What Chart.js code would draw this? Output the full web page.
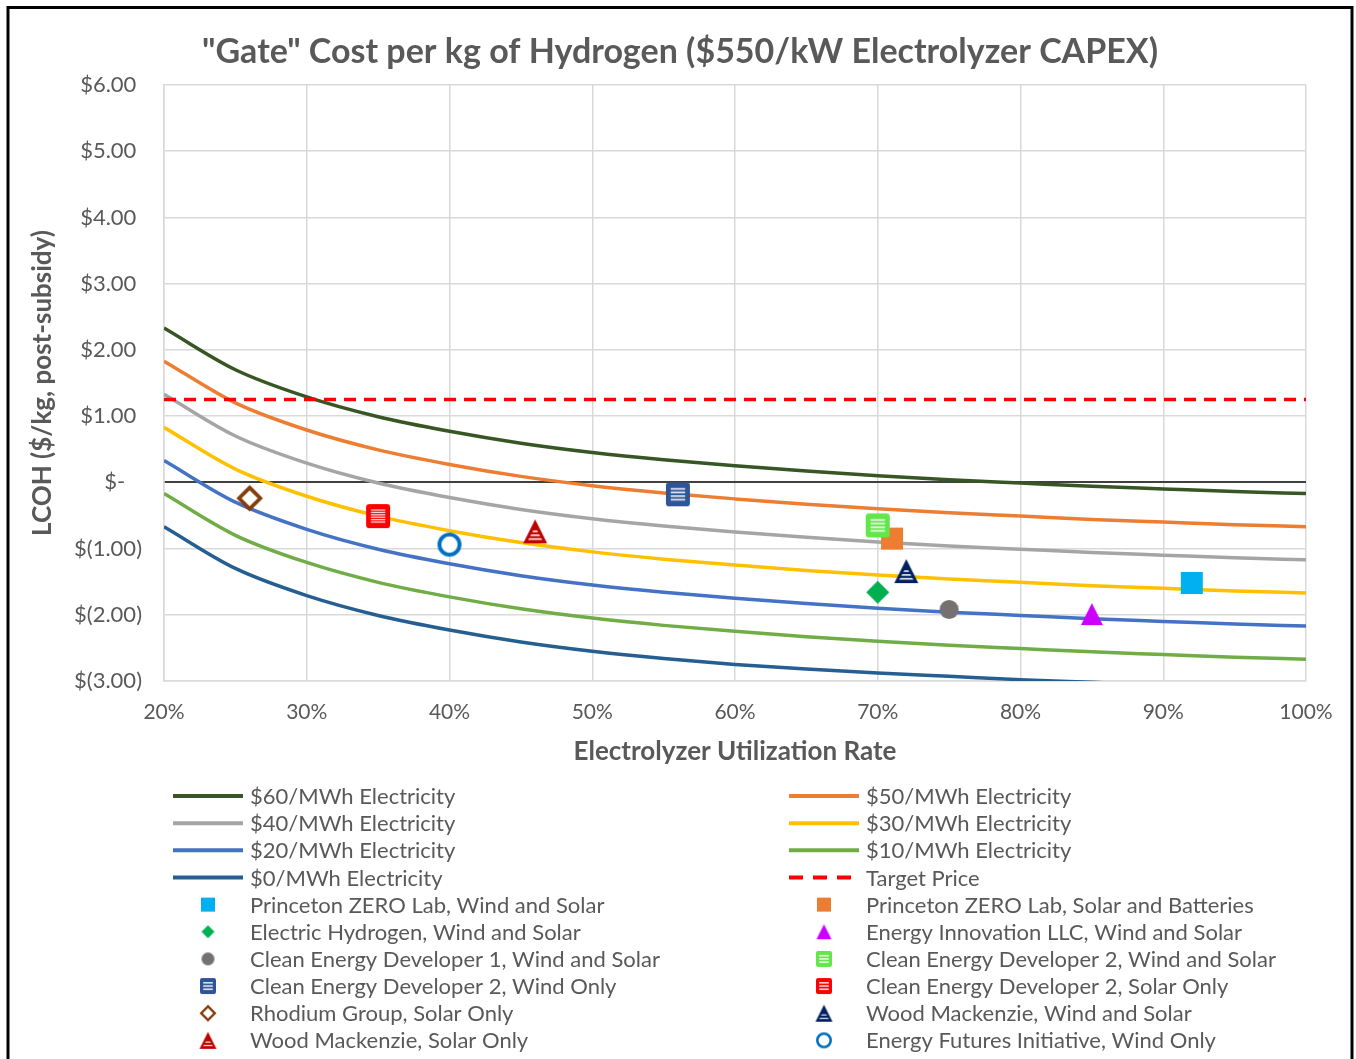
<!DOCTYPE html>
<html>
<head>
<meta charset="utf-8">
<script src="https://cdn.jsdelivr.net/npm/chart.js@4"></script>
<style>
  html, body { margin: 0; padding: 0; background: #fff; }
  #wrap { width: 1356px; height: 1059px; position: relative; }
</style>
</head>
<body>
<div id="wrap"><canvas id="lcohChart" width="1356" height="1059"></canvas></div>
<script>
/* "Gate" cost per kg of hydrogen vs electrolyzer utilization */

const UTILIZATION = [20, 25, 30, 35, 40, 45, 50, 55, 60, 65, 70, 75, 80, 85, 90, 95, 100];

const LCOH_60 = [2.33, 1.70, 1.29, 0.99, 0.77, 0.59, 0.45, 0.34, 0.25, 0.17, 0.10, 0.04, -0.01, -0.06, -0.10, -0.14, -0.17];
const LCOH_50 = [1.83, 1.20, 0.79, 0.49, 0.27, 0.09, -0.05, -0.16, -0.25, -0.33, -0.40, -0.46, -0.51, -0.56, -0.60, -0.64, -0.67];
const LCOH_40 = [1.33, 0.70, 0.29, -0.01, -0.23, -0.41, -0.55, -0.66, -0.75, -0.83, -0.90, -0.96, -1.01, -1.06, -1.10, -1.14, -1.17];
const LCOH_30 = [0.83, 0.20, -0.21, -0.51, -0.73, -0.91, -1.05, -1.16, -1.25, -1.33, -1.40, -1.46, -1.51, -1.56, -1.60, -1.64, -1.67];
const LCOH_20 = [0.33, -0.30, -0.71, -1.01, -1.23, -1.41, -1.55, -1.66, -1.75, -1.83, -1.90, -1.96, -2.01, -2.06, -2.10, -2.14, -2.17];
const LCOH_10 = [-0.17, -0.80, -1.21, -1.51, -1.73, -1.91, -2.05, -2.16, -2.25, -2.33, -2.40, -2.46, -2.51, -2.56, -2.60, -2.64, -2.67];
const LCOH_0 = [-0.67, -1.30, -1.71, -2.01, -2.23, -2.41, -2.55, -2.66, -2.75, -2.82, -2.88, -2.93, -2.98, -3.02, -3.06, -3.09, -3.12];

const CURVE_NAMES = [
  "$60/MWh Electricity", "$50/MWh Electricity", "$40/MWh Electricity", "$30/MWh Electricity",
  "$20/MWh Electricity", "$10/MWh Electricity", "$0/MWh Electricity"
];

const TARGET_UTIL = [20, 100];
const TARGET_PRICE = [1.25, 1.25];

const PROJECT_NAMES = [
  "Princeton ZERO Lab, Wind and Solar",
  "Princeton ZERO Lab, Solar and Batteries",
  "Electric Hydrogen, Wind and Solar",
  "Energy Innovation LLC, Wind and Solar",
  "Clean Energy Developer 1, Wind and Solar",
  "Clean Energy Developer 2, Wind and Solar",
  "Clean Energy Developer 2, Wind Only",
  "Clean Energy Developer 2, Solar Only",
  "Rhodium Group, Solar Only",
  "Wood Mackenzie, Wind and Solar",
  "Wood Mackenzie, Solar Only",
  "Energy Futures Initiative, Wind Only"
];
const PROJECT_UTIL = [92, 71, 70, 85, 75, 70, 56, 35, 26, 72, 46, 40];
const PROJECT_LCOH = [-1.52, -0.85, -1.66, -1.99, -1.92, -0.65, -0.18, -0.51, -0.24, -1.34, -0.74, -0.94];

const Y_TICK_LABELS = ["$(3.00)", "$(2.00)", "$(1.00)", "$-   ", "$1.00 ", "$2.00 ", "$3.00 ", "$4.00 ", "$5.00 ", "$6.00 "];
const X_TICK_LABELS = ["20%", "30%", "40%", "50%", "60%", "70%", "80%", "90%", "100%"];

// styling
const FONT = "Lato, 'Open Sans', sans-serif";
const TEXT = "#595959";
const GRID = "#D9D9D9";
const CURVE_COLORS = ["#375623", "#ED7D31", "#A5A5A5", "#FFC000", "#4472C4", "#70AD47", "#255E91"];
const PROJECT_MARKERS = [
  { kind: "square", color: "#00B0F0" },
  { kind: "square", color: "#ED7D31" },
  { kind: "diamond", color: "#00B050" },
  { kind: "triangle", color: "#CC00FF" },
  { kind: "circle", color: "#767171" },
  { kind: "stripedSquare", color: "#63E64A", lines: 4 },
  { kind: "stripedSquare", color: "#2F5597", lines: 4 },
  { kind: "stripedSquare", color: "#FF0000", lines: 6 },
  { kind: "hollowDiamond", color: "#843C0C" },
  { kind: "stripedTriangle", color: "#002060" },
  { kind: "stripedTriangle", color: "#C00000" },
  { kind: "ring", color: "#0070C0" }
];

function roundRect(ctx, x, y, w, h, r) {
  ctx.beginPath();
  ctx.moveTo(x + r, y);
  ctx.arcTo(x + w, y, x + w, y + h, r);
  ctx.arcTo(x + w, y + h, x, y + h, r);
  ctx.arcTo(x, y + h, x, y, r);
  ctx.arcTo(x, y, x + w, y, r);
  ctx.closePath();
}

function makeMarker(m, s, small) {
  const pad = 3;
  const c = document.createElement("canvas");
  c.width = c.height = Math.ceil(s + pad * 2);
  const ctx = c.getContext("2d");
  const o = pad, cx = c.width / 2, cy = c.height / 2;
  ctx.fillStyle = m.color;
  ctx.strokeStyle = m.color;

  if (m.kind === "square") {
    ctx.fillRect(o, o, s, s);
  } else if (m.kind === "diamond") {
    ctx.beginPath();
    ctx.moveTo(cx, o); ctx.lineTo(o + s, cy); ctx.lineTo(cx, o + s); ctx.lineTo(o, cy);
    ctx.closePath(); ctx.fill();
  } else if (m.kind === "hollowDiamond") {
    const lw = s * 0.15, h = s / 2 - lw / 2;
    ctx.beginPath();
    ctx.moveTo(cx, cy - h); ctx.lineTo(cx + h, cy); ctx.lineTo(cx, cy + h); ctx.lineTo(cx - h, cy);
    ctx.closePath();
    ctx.fillStyle = "#fff"; ctx.fill();
    ctx.lineWidth = lw; ctx.lineJoin = "miter"; ctx.stroke();
  } else if (m.kind === "circle") {
    ctx.beginPath(); ctx.arc(cx, cy, s / 2, 0, Math.PI * 2); ctx.fill();
  } else if (m.kind === "ring") {
    const lw = s * 0.16;
    ctx.beginPath(); ctx.arc(cx, cy, s / 2 - lw / 2, 0, Math.PI * 2);
    ctx.fillStyle = "#fff"; ctx.fill();
    ctx.lineWidth = lw; ctx.stroke();
  } else if (m.kind === "triangle") {
    ctx.beginPath();
    ctx.moveTo(cx, o); ctx.lineTo(o + s, o + s); ctx.lineTo(o, o + s);
    ctx.closePath(); ctx.fill();
  } else if (m.kind === "stripedSquare") {
    roundRect(ctx, o, o, s, s, s * 0.13);
    ctx.fill();
    const inset = s * 0.2, inner = s - inset * 2, n = small ? 3 : (m.lines || 4);
    const lw = Math.max(1.2, inner / n * 0.45);
    ctx.fillStyle = "rgba(255,255,255,0.92)";
    for (let i = 0; i < n; i++) {
      const y = o + inset + (i + 0.5) * inner / n;
      ctx.fillRect(o + inset, y - lw / 2, inner, lw);
    }
  } else if (m.kind === "stripedTriangle") {
    ctx.beginPath();
    ctx.moveTo(cx, o); ctx.lineTo(o + s, o + s); ctx.lineTo(o, o + s);
    ctx.closePath(); ctx.fill();
    ctx.save();
    ctx.beginPath();
    const k = s * 0.22;
    ctx.moveTo(cx, o + k * 1.4); ctx.lineTo(o + s - k * 0.9, o + s - k * 0.55); ctx.lineTo(o + k * 0.9, o + s - k * 0.55);
    ctx.closePath(); ctx.clip();
    ctx.fillStyle = "rgba(255,255,255,0.92)";
    const lw = Math.max(1, s * 0.07);
    (small ? [0.6, 0.8] : [0.5, 0.66, 0.82]).forEach(f => ctx.fillRect(o, o + s * f - lw / 2, s, lw));
    ctx.restore();
  }
  return c;
}

const MARKER_SIZES = { square: 22, diamond: 23, hollowDiamond: 25, circle: 19, ring: 24, triangle: 22, stripedSquare: 24, stripedTriangle: 24 };
const LEGEND_SIZES = { square: 14, diamond: 13, hollowDiamond: 16, circle: 13, ring: 16, triangle: 15, stripedSquare: 16, stripedTriangle: 17 };

const plotIcons = PROJECT_MARKERS.map(m => makeMarker(m, MARKER_SIZES[m.kind], false));
const legendIcons = PROJECT_MARKERS.map(m => makeMarker(m, LEGEND_SIZES[m.kind], true));

const curveSeries = [LCOH_60, LCOH_50, LCOH_40, LCOH_30, LCOH_20, LCOH_10, LCOH_0];

const datasets = [];
curveSeries.forEach((vals, i) => {
  datasets.push({
    label: CURVE_NAMES[i],
    data: UTILIZATION.map((u, j) => ({ x: u, y: vals[j] })),
    showLine: true,
    borderColor: CURVE_COLORS[i],
    backgroundColor: CURVE_COLORS[i],
    borderWidth: 3.5,
    pointRadius: 0,
    cubicInterpolationMode: "monotone"
  });
});
datasets.push({
  label: "Target Price",
  data: TARGET_UTIL.map((u, j) => ({ x: u, y: TARGET_PRICE[j] })),
  showLine: true,
  borderColor: "#FF0000",
  backgroundColor: "#FF0000",
  borderWidth: 3.5,
  borderDash: [12, 8],
  pointRadius: 0
});
PROJECT_NAMES.forEach((name, i) => {
  datasets.push({
    label: name,
    data: [{ x: PROJECT_UTIL[i], y: PROJECT_LCOH[i] }],
    showLine: false,
    pointStyle: plotIcons[i],
    legendIcon: legendIcons[i],
    pointRadius: 12,
    pointHoverRadius: 12
  });
});
// later series on top, like the spreadsheet
datasets.forEach((ds, i) => { ds.order = datasets.length - i; });

const decorPlugin = {
  id: "decor",
  afterDraw(chart) {
    const ctx = chart.ctx;
    ctx.save();

    // outer frame
    ctx.strokeStyle = "#000";
    ctx.lineWidth = 3;
    ctx.beginPath();
    ctx.moveTo(8, 1059); ctx.lineTo(8, 7.5); ctx.lineTo(1352, 7.5); ctx.lineTo(1352, 1059);
    ctx.stroke();

    // title
    ctx.fillStyle = TEXT;
    ctx.font = "bold 34px " + FONT;
    ctx.textAlign = "center";
    ctx.textBaseline = "middle";
    ctx.fillText('"Gate" Cost per kg of Hydrogen ($550/kW Electrolyzer CAPEX)', 680, 52);

    // legend, two columns
    ctx.font = "22px " + FONT;
    ctx.textAlign = "left";
    chart.data.datasets.forEach((ds, i) => {
      const col = i % 2, row = Math.floor(i / 2);
      const x0 = col ? 789 : 173;
      const y = 796 + row * 27.15;
      if (ds.showLine) {
        ctx.save();
        ctx.strokeStyle = ds.borderColor;
        ctx.lineWidth = 4;
        ctx.setLineDash(ds.borderDash ? [14, 10] : []);
        ctx.beginPath(); ctx.moveTo(x0, y); ctx.lineTo(x0 + 70, y); ctx.stroke();
        ctx.restore();
      } else {
        const ic = ds.legendIcon;
        ctx.drawImage(ic, x0 + 35 - ic.width / 2, y - ic.height / 2);
      }
      ctx.fillStyle = TEXT;
      ctx.fillText(ds.label, x0 + 77, y + 1);
    });
    ctx.restore();
  }
};

new Chart(document.getElementById("lcohChart"), {
  type: "scatter",
  data: { datasets },
  options: {
    responsive: false,
    animation: false,
    layout: { padding: { top: 85, left: 0, right: 50, bottom: 288 } },
    plugins: {
      legend: { display: false },
      title: { display: false },
      tooltip: { enabled: false }
    },
    scales: {
      x: {
        type: "linear",
        min: 20,
        max: 100,
        ticks: {
          stepSize: 10,
          color: TEXT,
          padding: 19,
          font: { family: FONT, size: 21 },
          callback: (v) => X_TICK_LABELS[Math.round((v - 20) / 10)]
        },
        grid: { color: GRID, lineWidth: 1.5, drawTicks: false },
        border: { color: GRID, width: 1.5 },
        title: {
          display: true,
          text: "Electrolyzer Utilization Rate",
          color: TEXT,
          font: { family: FONT, size: 26, weight: "bold" },
          padding: { top: 0, bottom: 4 }
        },
        afterFit(scale) { scale.height = 90; }
      },
      y: {
        min: -3,
        max: 6,
        ticks: {
          stepSize: 1,
          color: TEXT,
          padding: 22,
          font: { family: FONT, size: 22 },
          callback: (v) => Y_TICK_LABELS[Math.round(v + 3)]
        },
        grid: {
          color: (c) => (c.tick && c.tick.value === 0 ? "#404040" : GRID),
          lineWidth: (c) => (c.tick && c.tick.value === 0 ? 2 : 1.5),
          drawTicks: false
        },
        border: { color: GRID, width: 1.5 },
        title: {
          display: true,
          text: "LCOH ($/kg, post-subsidy)",
          color: TEXT,
          font: { family: FONT, size: 26, weight: "bold" },
          padding: { top: 27, bottom: 0 }
        },
        afterFit(scale) { scale.width = 164; }
      }
    }
  },
  plugins: [decorPlugin]
});
</script>
</body>
</html>
